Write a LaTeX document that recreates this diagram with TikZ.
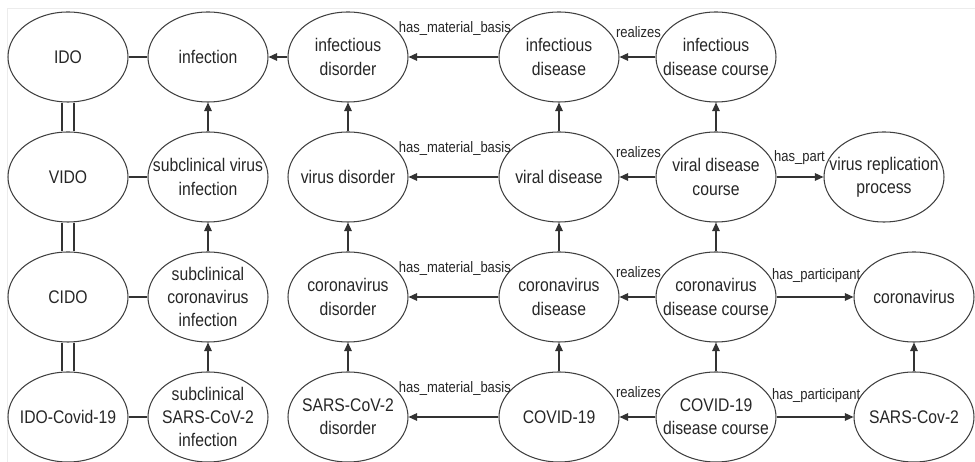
\documentclass[tikz,border=0pt]{standalone}
\usepackage{fontspec}
\setmainfont[FakeStretch=0.86]{Liberation Sans}
\usetikzlibrary{shapes.geometric}
\usetikzlibrary{arrows.meta}

\begin{document}
\begin{tikzpicture}[scale=1,
oval/.style={draw=black!75, line width=0.6pt, ellipse, minimum width=2.4cm, minimum height=1.8cm, inner xsep=-0.4cm, inner ysep=0pt, align=center, text=black!85, font=\fontsize{10.4}{13.2}\selectfont},
arr/.style={draw=black!80, line width=0.7pt, -{Triangle[length=1.7mm,width=1.5mm]}},
link/.style={draw=black!80, line width=0.7pt},
rel/.style={text=black!85, inner sep=0pt, font=\fontsize{8.6}{10}\selectfont}]

\useasboundingbox (0,0) rectangle (19.5,9.24);
\draw[gray!15] (0.14,0) |- (19.5,9.08);

% ontologies
\node[oval] (ido) at (1.36,8.1) {IDO};
\node[oval] (vido) at (1.36,5.7) {VIDO};
\node[oval] (cido) at (1.36,3.3) {CIDO};
\node[oval] (idocov) at (1.36,0.9) {IDO-Covid-19};

\node[oval] (inf) at (4.16,8.1) {infection};
\node[oval] (svi) at (4.16,5.7) {subclinical virus\\infection};
\node[oval] (sci) at (4.16,3.3) {subclinical\\coronavirus\\infection};
\node[oval] (ssi) at (4.16,0.9) {subclinical\\SARS-CoV-2\\infection};

\node[oval] (idsr) at (6.96,8.1) {infectious\\disorder};
\node[oval] (vdsr) at (6.96,5.7) {virus disorder};
\node[oval] (cdsr) at (6.96,3.3) {coronavirus\\disorder};
\node[oval] (sdsr) at (6.96,0.9) {SARS-CoV-2\\disorder};

\node[oval] (idis) at (11.18,8.1) {infectious\\disease};
\node[oval] (vdis) at (11.18,5.7) {viral disease};
\node[oval] (cdis) at (11.18,3.3) {coronavirus\\disease};
\node[oval] (covid) at (11.18,0.9) {COVID-19};

\node[oval] (idc) at (14.32,8.1) {infectious\\disease course};
\node[oval] (vdc) at (14.32,5.7) {viral disease\\course};
\node[oval] (cdc) at (14.32,3.3) {coronavirus\\disease course};
\node[oval] (covc) at (14.32,0.9) {COVID-19\\disease course};

\node[oval] (vrp) at (17.68,5.7) {virus replication\\process};
\node[oval] (cov) at (18.28,3.3) {coronavirus};
\node[oval] (sars) at (18.28,0.9) {SARS-Cov-2};

% ontology links
\draw[link] ([xshift=-1.2mm]ido.south) -- ([xshift=-1.2mm]vido.north);
\draw[link] ([xshift=1.2mm]ido.south) -- ([xshift=1.2mm]vido.north);
\draw[link] ([xshift=-1.2mm]vido.south) -- ([xshift=-1.2mm]cido.north);
\draw[link] ([xshift=1.2mm]vido.south) -- ([xshift=1.2mm]cido.north);
\draw[link] ([xshift=-1.2mm]cido.south) -- ([xshift=-1.2mm]idocov.north);
\draw[link] ([xshift=1.2mm]cido.south) -- ([xshift=1.2mm]idocov.north);

\draw[link] (ido) -- (inf);
\draw[link] (vido) -- (svi);
\draw[link] (cido) -- (sci);
\draw[link] (idocov) -- (ssi);

% is_a
\draw[arr] (svi) -- (inf);
\draw[arr] (sci) -- (svi);
\draw[arr] (ssi) -- (sci);

\draw[arr] (vdsr) -- (idsr);
\draw[arr] (cdsr) -- (vdsr);
\draw[arr] (sdsr) -- (cdsr);

\draw[arr] (vdis) -- (idis);
\draw[arr] (cdis) -- (vdis);
\draw[arr] (covid) -- (cdis);

\draw[arr] (vdc) -- (idc);
\draw[arr] (cdc) -- (vdc);
\draw[arr] (covc) -- (cdc);

\draw[arr] (sars) -- (cov);

\draw[arr] (idsr) -- (inf);

% relations
\draw[arr] (idis) -- node[rel, pos=0, anchor=south east, xshift=0.26cm, yshift=0.42cm] {has\_material\_basis} (idsr);
\draw[arr] (vdis) -- node[rel, pos=0, anchor=south east, xshift=0.26cm, yshift=0.42cm] {has\_material\_basis} (vdsr);
\draw[arr] (cdis) -- node[rel, pos=0, anchor=south east, xshift=0.26cm, yshift=0.42cm] {has\_material\_basis} (cdsr);
\draw[arr] (covid) -- node[rel, pos=0, anchor=south east, xshift=0.26cm, yshift=0.42cm] {has\_material\_basis} (sdsr);

\draw[arr] (idc) -- node[rel, pos=0, anchor=south east, xshift=0.12cm, yshift=0.37cm] {realizes} (idis);
\draw[arr] (vdc) -- node[rel, pos=0, anchor=south east, xshift=0.12cm, yshift=0.37cm] {realizes} (vdis);
\draw[arr] (cdc) -- node[rel, pos=0, anchor=south east, xshift=0.12cm, yshift=0.37cm] {realizes} (cdis);
\draw[arr] (covc) -- node[rel, pos=0, anchor=south east, xshift=0.12cm, yshift=0.37cm] {realizes} (covid);

\draw[arr] (vdc) -- node[rel, pos=0, anchor=south west, xshift=-0.06cm, yshift=0.24cm] {has\_part} (vrp);
\draw[arr] (cdc) -- node[rel, pos=0, anchor=south west, xshift=-0.1cm, yshift=0.27cm] {has\_participant} (cov);
\draw[arr] (covc) -- node[rel, pos=0, anchor=south west, xshift=-0.1cm, yshift=0.27cm] {has\_participant} (sars);

\end{tikzpicture}
\end{document}
